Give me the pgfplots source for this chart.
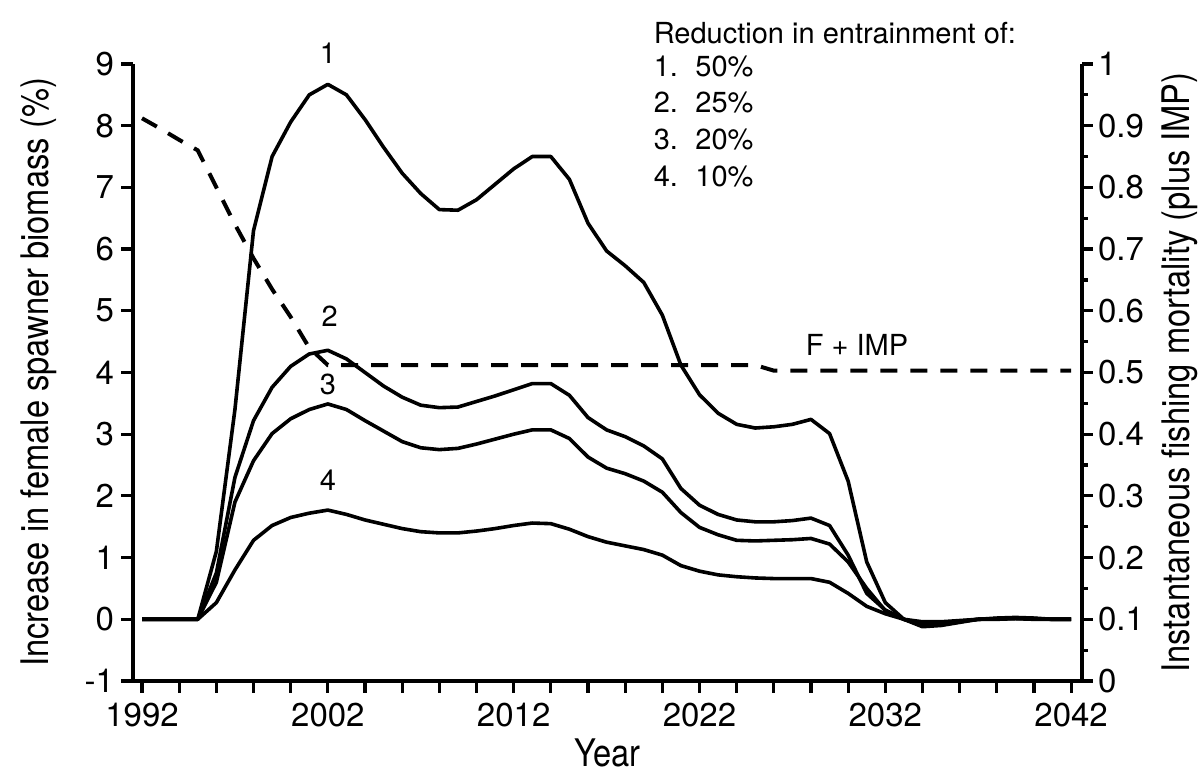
\documentclass[border=0pt]{standalone}
\usepackage{fontspec}
\setmainfont{TeX Gyre Heros}
\newfontfamily\narrowfont[FakeStretch=0.86]{TeX Gyre Heros}
\usepackage{pgfplots}
\usepackage{pgfplotstable}
\pgfplotsset{compat=1.18}

\pgfplotstableread{
year c1 c2 c3 c4
1992 0 0 0 0
1993 0 0 0 0
1994 0 0 0 0
1995 0 0 0 0
1996 1.10 0.75 0.60 0.27
1997 3.40 2.30 1.90 0.80
1998 6.30 3.22 2.57 1.28
1999 7.50 3.76 3.01 1.52
2000 8.06 4.10 3.25 1.65
2001 8.50 4.30 3.40 1.72
2002 8.67 4.36 3.49 1.77
2003 8.50 4.22 3.40 1.70
2004 8.10 4.00 3.22 1.61
2005 7.65 3.78 3.05 1.54
2006 7.23 3.60 2.88 1.47
2007 6.90 3.47 2.78 1.42
2008 6.64 3.43 2.75 1.40
2009 6.63 3.44 2.77 1.40
2010 6.80 3.53 2.84 1.43
2011 7.05 3.62 2.92 1.47
2012 7.30 3.72 3.00 1.52
2013 7.50 3.82 3.07 1.56
2014 7.50 3.82 3.07 1.55
2015 7.13 3.63 2.93 1.46
2016 6.42 3.27 2.63 1.34
2017 5.97 3.07 2.45 1.25
2018 5.73 2.96 2.36 1.19
2019 5.46 2.81 2.24 1.13
2020 4.93 2.60 2.06 1.04
2021 4.12 2.12 1.73 0.87
2022 3.64 1.85 1.49 0.78
2023 3.34 1.70 1.37 0.72
2024 3.16 1.61 1.28 0.69
2025 3.10 1.58 1.27 0.67
2026 3.12 1.58 1.28 0.66
2027 3.16 1.60 1.29 0.66
2028 3.24 1.64 1.31 0.66
2029 3.01 1.52 1.22 0.60
2030 2.24 1.04 0.93 0.42
2031 0.93 0.42 0.50 0.21
2032 0.27 0.15 0.14 0.09
2033 0.00 0.00 0.00 0.00
2034 -0.12 -0.10 -0.08 -0.04
2035 -0.10 -0.09 -0.07 -0.04
2036 -0.05 -0.04 -0.03 -0.02
2037 0.00 0.00 0.00 0.00
2038 0.02 0.01 0.01 0.00
2039 0.03 0.02 0.01 0.01
2040 0.02 0.01 0.01 0.00
2041 0.00 0.00 0.00 0.00
2042 0.00 0.00 0.00 0.00
}\biomass

\pgfplotstableread{
year F
1992 0.912
1993 0.895
1994 0.877
1995 0.860
1996 0.800
1997 0.740
1998 0.685
1999 0.635
2000 0.590
2001 0.540
2002 0.512
2025 0.512
2026 0.503
2042 0.503
}\fimp

\newcommand{\tickfont}{\fontsize{16.5}{18}\selectfont}
\newcommand{\labfont}{\fontsize{14.5}{16}\selectfont}
\newcommand{\axfont}{\narrowfont\fontsize{19}{21}\selectfont}

\begin{document}
\begin{tikzpicture}
\useasboundingbox (-66.65pt,-47pt) rectangle (535.35pt,340.5pt);
\begin{axis}[
  at={(0pt,0pt)}, anchor=south west,
  width=474.2pt, height=308.5pt, scale only axis,
  xmin=1991.53, xmax=2042.57, ymin=-1, ymax=9,
  axis x line=bottom, axis y line=left,
  axis line style={-, line width=2pt, black},
  xtick={1992,2002,2012,2022,2032,2042},
  xticklabels={1992,2002,2012,2022,2032,2042},
  minor xtick={1994,1996,1998,2000,2004,2006,2008,2010,2014,2016,2018,2020,2024,2026,2028,2030,2034,2036,2038,2040},
  ytick={-1,0,1,2,3,4,5,6,7,8,9},
  yticklabels={-1,0,1,2,3,4,5,6,7,8,9},
  tick align=outside,
  major tick length=6pt, minor tick length=6pt,
  tick style={line width=1.6pt, black},
  ticklabel style={font=\tickfont},
  xticklabel style={anchor=north, inner sep=0pt, yshift=-5pt},
  yticklabel style={anchor=east, inner sep=0pt, xshift=-3.5pt},
  xlabel={Year},
  xlabel style={at={(axis description cs:0.5,-0.1378)}, anchor=base, inner sep=0pt, font=\axfont},
  ylabel={Increase in female spawner biomass (\%)},
  ylabel style={at={(axis description cs:-0.1002,0.5)}, anchor=center, inner sep=0pt, font=\axfont},
  clip=false,
]
\addplot[black, line width=1.8pt, line join=round] table[x=year, y=c1] {\biomass};
\addplot[black, line width=1.8pt, line join=round] table[x=year, y=c2] {\biomass};
\addplot[black, line width=1.8pt, line join=round] table[x=year, y=c3] {\biomass};
\addplot[black, line width=1.8pt, line join=round] table[x=year, y=c4] {\biomass};

\node[anchor=base, inner sep=0pt, font=\labfont] at (axis cs:2002,9.01) {1};
\node[anchor=base, inner sep=0pt, font=\labfont] at (axis cs:2002.1,4.74) {2};
\node[anchor=base, inner sep=0pt, font=\labfont] at (axis cs:2002,3.64) {3};
\node[anchor=base, inner sep=0pt, font=\labfont] at (axis cs:2002,2.09) {4};
\node[anchor=base west, inner sep=0pt, font=\labfont] at (axis cs:2027.7,4.27) {F + IMP};

\node[anchor=base west, inner sep=0pt, font=\labfont] at (axis cs:2019.52,9.33) {Reduction in entrainment of:};
\node[anchor=base west, inner sep=0pt, font=\labfont] at (axis cs:2019.52,8.80) {1.};
\node[anchor=base west, inner sep=0pt, font=\labfont] at (axis cs:2021.76,8.80) {50\%};
\node[anchor=base west, inner sep=0pt, font=\labfont] at (axis cs:2019.52,8.22) {2.};
\node[anchor=base west, inner sep=0pt, font=\labfont] at (axis cs:2021.76,8.22) {25\%};
\node[anchor=base west, inner sep=0pt, font=\labfont] at (axis cs:2019.52,7.62) {3.};
\node[anchor=base west, inner sep=0pt, font=\labfont] at (axis cs:2021.76,7.62) {20\%};
\node[anchor=base west, inner sep=0pt, font=\labfont] at (axis cs:2019.52,7.02) {4.};
\node[anchor=base west, inner sep=0pt, font=\labfont] at (axis cs:2021.76,7.02) {10\%};
\end{axis}

\begin{axis}[
  at={(0pt,0pt)}, anchor=south west,
  width=474.2pt, height=308.5pt, scale only axis,
  xmin=1991.53, xmax=2042.57, ymin=0, ymax=1,
  axis x line=none, axis y line=right,
  axis line style={-, line width=2pt, black},
  ytick={0,0.1,0.2,0.3,0.4,0.5,0.6,0.7,0.8,0.9,1},
  yticklabels={0,0.1,0.2,0.3,0.4,0.5,0.6,0.7,0.8,0.9,1},
  minor ytick={0.05,0.15,0.25,0.35,0.45,0.55,0.65,0.75,0.85,0.95},
  tick align=outside,
  major tick length=5.5pt, minor tick length=3pt,
  tick style={line width=1.6pt, black},
  ticklabel style={font=\tickfont},
  yticklabel style={anchor=west, inner sep=0pt, xshift=2.5pt},
  ylabel={Instantaneous fishing mortality (plus IMP)},
  ylabel style={at={(axis description cs:1.1033,0.5)}, anchor=center, inner sep=0pt, font=\axfont},
  clip=false,
]
\addplot[black, line width=2pt, dash pattern=on 8.5pt off 6.5pt] table[x=year, y=F] {\fimp};
\end{axis}
\end{tikzpicture}
\end{document}
